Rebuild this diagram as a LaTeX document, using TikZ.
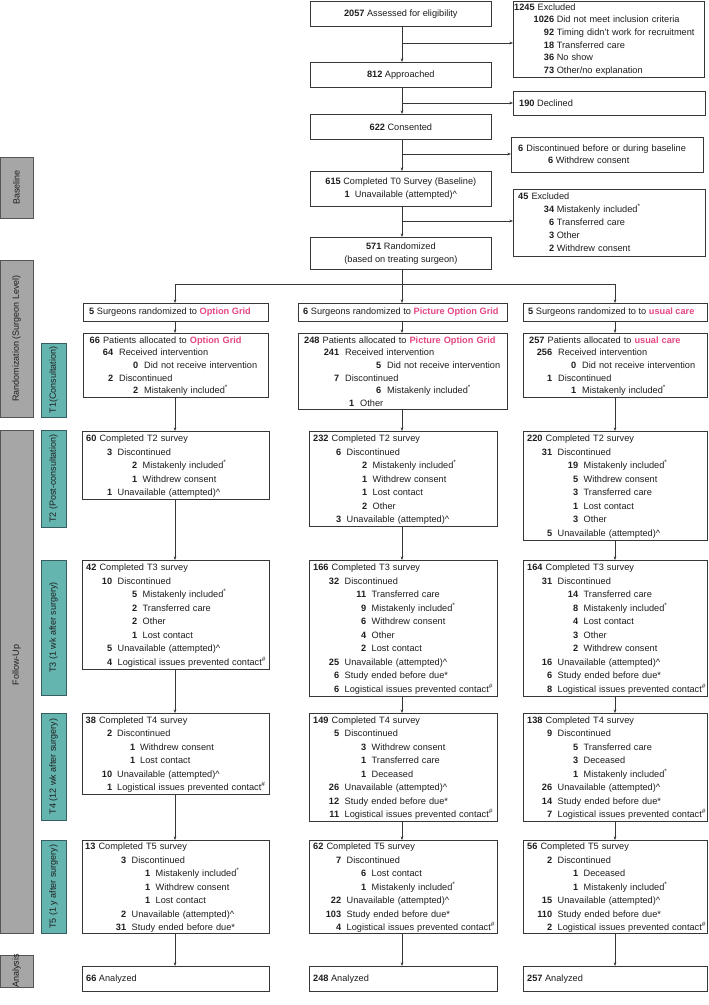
\documentclass[tikz,border=0pt]{standalone}
\usepackage{fontspec}
\setmainfont{Liberation Sans}
\usetikzlibrary{arrows.meta}
\definecolor{pk}{RGB}{228,70,132}
\definecolor{txt}{RGB}{30,30,30}
\definecolor{bd}{RGB}{55,55,55}
\definecolor{grayf}{RGB}{166,166,166}
\definecolor{grayd}{RGB}{85,85,85}
\definecolor{tealf}{RGB}{100,181,176}
\definecolor{teald}{RGB}{55,95,95}
\newlength\rA \newlength\rB \newlength\gp \newlength\hx
\setlength\gp{6pt}\setlength\hx{5.5pt}
\newcommand\pkb[1]{\textcolor{pk}{\textbf{#1}}}
\newcommand\Lh[2]{\rule{0pt}{7pt}\hspace*{\hx}\textbf{#1} #2}
\newcommand\Lo[2]{\makebox[\rA][r]{\textbf{#1}}\hspace*{\gp}#2}
\newcommand\Lt[2]{\makebox[\rB][r]{\textbf{#1}}\hspace*{\gp}#2}
\newcommand\mincl{\textsuperscript{*}}
\newcommand\hsh{\textsuperscript{\#}}
\newcommand\crt{\textasciicircum}
\tikzset{
  box/.style={draw=bd, line width=0.7pt, fill=white, inner sep=0pt, anchor=north west},
  cb/.style={font=\fontsize{9.2}{12.6}\selectfont, text=txt},
  body/.style={anchor=north west, inner sep=0pt, text width=300pt, align=left, text=txt},
  lvl/.style n args={4}{execute at begin node={\parindent=0pt\parskip=0pt\setlength\rA{#1pt}\setlength\rB{#2pt}\setlength\hx{#3pt}\setlength\gp{#4pt}}},
  fs/.style={font=\fontsize{9.2}{#1}\selectfont},
  arr/.style={draw=bd, line width=0.6pt, -{Stealth[length=3.6pt,width=2.8pt]}},
  ln/.style={draw=bd, line width=0.6pt},
  gbar/.style={fill=grayf, draw=grayd, line width=0.8pt},
  tbar/.style={fill=tealf, draw=teald, line width=0.8pt},
  bartxt/.style={rotate=90, font=\fontsize{9}{10}\selectfont, text=txt, inner sep=0pt},
  one/.style={anchor=west, inner sep=0pt, font=\fontsize{9.2}{11}\selectfont, text=txt},
}
\begin{document}
\begin{tikzpicture}[x=1pt,y=-1pt]
\useasboundingbox (0,0) rectangle (709,1005);
% side bars
\draw[gbar] (0.5,157) rectangle (33,218);
\node[bartxt] (lb1) at (16.5,187.5) {Baseline};
\draw[gbar] (0.5,260) rectangle (33,417);
\node[bartxt] (lb2) at (16.5,338.5) {Randomization (Surgeon Level)};
\draw[gbar] (0.5,430) rectangle (33,933);
\node[bartxt] (lb3) at (16.5,665) {Follow-Up};
\draw[gbar] (0.5,955) rectangle (33,987);
\node[bartxt] (lb4) at (16.5,971) {Analysis};
\draw[tbar] (41,343) rectangle (66,417);
\node[bartxt] (lt1) at (53.5,380) {T1(Consultation)};
\draw[tbar] (41,430) rectangle (66,527);
\node[bartxt] (lt2) at (53.5,478.5) {T2 (Post-consultation)};
\draw[tbar] (41,560) rectangle (66,695);
\node[bartxt] (lt3) at (53.5,627.5) {T3 (1 wk after surgery)};
\draw[tbar] (41,713) rectangle (66,820);
\node[bartxt] (lt4) at (53.5,766.5) {T4 (12 wk after surgery)};
\draw[tbar] (41,840) rectangle (66,933);
\node[bartxt] (lt5) at (53.5,886.5) {T5 (1 y after surgery)};

\coordinate (cl) at (175,0);
\coordinate (cm) at (402,0);
\coordinate (cr) at (615,0);

% top flow
\node[box, cb, minimum width=181pt, minimum height=25pt] (as) at (310,1) {\textbf{2057} Assessed for eligibility};
\node[box, minimum width=191pt, minimum height=76pt] (ex1) at (513,1) {};
\node[body, fs=12.6, lvl={41}{41}{1}{2.6}] (ex1t) at ([shift={(0,2)}]ex1.north west)
 {\Lh{1245}{Excluded}\\
  \Lo{1026}{Did not meet inclusion criteria}\\
  \Lo{92}{Timing didn't work for recruitment}\\
  \Lo{18}{Transferred care}\\
  \Lo{36}{No show}\\
  \Lo{73}{Other/no explanation}};
\node[box, cb, minimum width=181pt, minimum height=25pt] (ap) at (310,62) {\textbf{812} Approached};
\node[box, minimum width=192pt, minimum height=24pt] (dc) at (513,91) {};
\node[one] (dct) at ([shift={(6,0)}]dc.west) {\textbf{190} Declined};
\node[box, cb, minimum width=181pt, minimum height=25pt] (cs) at (310,114) {\textbf{622} Consented};
\node[box, minimum width=192pt, minimum height=35pt] (ds) at (511,137) {};
\node[body, fs=12.6, lvl={42}{42}{7}{2.6}] (dst) at ([shift={(0,7)}]ds.north west)
 {\Lh{6}{Discontinued before or during baseline}\\
  \Lo{6}{Withdrew consent}};
\node[box, cb, align=center, minimum width=181pt, minimum height=35pt] (t0) at (310,171)
 {\textbf{615} Completed T0 Survey (Baseline)\\\textbf{1}\ \ Unavailable (attempted)\crt};
\node[box, minimum width=192pt, minimum height=67pt] (ex2) at (513,189) {};
\node[body, fs=13, lvl={41}{41}{5}{2.6}] (ex2t) at ([shift={(0,3)}]ex2.north west)
 {\Lh{45}{Excluded}\\
  \Lo{34}{Mistakenly included\mincl}\\
  \Lo{6}{Transferred care}\\
  \Lo{3}{Other}\\
  \Lo{2}{Withdrew consent}};
\node[box, cb, align=center, minimum width=181pt, minimum height=32pt] (rd) at (310,237)
 {\textbf{571} Randomized\\(based on treating surgeon)};

\coordinate (j1) at (402,43);
\coordinate (j2) at (402,103);
\coordinate (j3) at (402,154);
\coordinate (j4) at (402,221);
\coordinate (hz) at (402,284);
\draw[arr] (as.south -| cm) -- (ap.north -| cm);
\draw[arr] (ap.south -| cm) -- (cs.north -| cm);
\draw[arr] (cs.south -| cm) -- (t0.north -| cm);
\draw[arr] (t0.south -| cm) -- (rd.north -| cm);
\draw[arr] (j1) -- (j1 -| ex1.west);
\draw[arr] (j2) -- (j2 -| dc.west);
\draw[arr] (j3) -- (j3 -| ds.west);
\draw[arr] (j4) -- (j4 -| ex2.west);
\draw[ln] (rd.south -| cm) -- (hz);
\draw[ln] (hz -| cl) -- (hz -| cr);

% surgeons
\node[box, minimum width=185pt, minimum height=18pt] (sl) at (83,303) {};
\node[one] (slt) at ([shift={(6,0)}]sl.west) {\textbf{5} Surgeons randomized to \pkb{Option Grid}};
\node[box, minimum width=209pt, minimum height=18pt] (sm) at (298,303) {};
\node[one] (smt) at ([shift={(5,0)}]sm.west) {\textbf{6} Surgeons randomized to \pkb{Picture Option Grid}};
\node[box, minimum width=184pt, minimum height=18pt] (sr) at (523,303) {};
\node[one] (srt) at ([shift={(5,0)}]sr.west) {\textbf{5} Surgeons randomized to to \pkb{usual care}};
\draw[arr] (hz -| cl) -- (sl.north -| cl);
\draw[arr] (hz) -- (sm.north -| cm);
\draw[arr] (hz -| cr) -- (sr.north -| cr);

% T1
\node[box, minimum width=185pt, minimum height=64pt] (t1l) at (83,333) {};
\node[body, fs=12.6, lvl={30}{55}{6.5}{6}] (t1lt) at ([shift={(0,3)}]t1l.north west)
 {\Lh{66}{Patients allocated to \pkb{Option Grid}}\\
  \Lo{64}{Received intervention}\\
  \Lt{0}{Did not receive intervention}\\
  \Lo{2}{Discontinued}\\
  \Lt{2}{Mistakenly included\mincl}};
\node[box, minimum width=209pt, minimum height=76pt] (t1m) at (298,333) {};
\node[body, fs=12.6, lvl={41}{83}{6}{6}] (t1mt) at ([shift={(0,3)}]t1m.north west)
 {\Lh{248}{Patients allocated to \pkb{Picture Option Grid}}\\
  \Lo{241}{Received intervention}\\
  \Lt{5}{Did not receive intervention}\\
  \Lo{7}{Discontinued}\\
  \Lt{6}{Mistakenly included\mincl}\\
  \makebox[56pt][r]{\textbf{1}}\hspace*{6pt}Other};
\node[box, minimum width=184pt, minimum height=64pt] (t1r) at (523,333) {};
\node[body, fs=12.6, lvl={29}{53}{6}{6}] (t1rt) at ([shift={(0,3)}]t1r.north west)
 {\Lh{257}{Patients allocated to \pkb{usual care}}\\
  \Lo{256}{Received intervention}\\
  \Lt{0}{Did not receive intervention}\\
  \Lo{1}{Discontinued}\\
  \Lt{1}{Mistakenly included\mincl}};
\draw[arr] (sl.south -| cl) -- (t1l.north -| cl);
\draw[arr] (sm.south -| cm) -- (t1m.north -| cm);
\draw[arr] (sr.south -| cr) -- (t1r.north -| cr);

% T2
\node[box, minimum width=187pt, minimum height=68pt] (t2l) at (82,431) {};
\node[body, fs=13.5, lvl={30}{55}{4}{5.5}] (t2lt) at ([shift={(0,3.5)}]t2l.north west)
 {\Lh{60}{Completed T2 survey}\\
  \Lo{3}{Discontinued}\\
  \Lt{2}{Mistakenly included\mincl}\\
  \Lt{1}{Withdrew consent}\\
  \Lo{1}{Unavailable (attempted)\crt}};
\node[box, minimum width=188pt, minimum height=95pt] (t2m) at (309,431) {};
\node[body, fs=13.5, lvl={32}{58}{4}{5.5}] (t2mt) at ([shift={(0,3.5)}]t2m.north west)
 {\Lh{232}{Completed T2 survey}\\
  \Lo{6}{Discontinued}\\
  \Lt{2}{Mistakenly included\mincl}\\
  \Lt{1}{Withdrew consent}\\
  \Lt{1}{Lost contact}\\
  \Lt{2}{Other}\\
  \Lo{3}{Unavailable (attempted)\crt}};
\node[box, minimum width=184pt, minimum height=108.5pt] (t2r) at (523,431) {};
\node[body, fs=13.5, lvl={29}{55}{4}{5.5}] (t2rt) at ([shift={(0,3.5)}]t2r.north west)
 {\Lh{220}{Completed T2 survey}\\
  \Lo{31}{Discontinued}\\
  \Lt{19}{Mistakenly included\mincl}\\
  \Lt{5}{Withdrew consent}\\
  \Lt{3}{Transferred care}\\
  \Lt{1}{Lost contact}\\
  \Lt{3}{Other}\\
  \Lo{5}{Unavailable (attempted)\crt}};
\draw[arr] (t1l.south -| cl) -- (t2l.north -| cl);
\draw[arr] (t1m.south -| cm) -- (t2m.north -| cm);
\draw[arr] (t1r.south -| cr) -- (t2r.north -| cr);

% T3
\node[box, minimum width=187pt, minimum height=108.5pt] (t3l) at (82,560) {};
\node[body, fs=13.5, lvl={30}{55}{4}{5.5}] (t3lt) at ([shift={(0,3.5)}]t3l.north west)
 {\Lh{42}{Completed T3 survey}\\
  \Lo{10}{Discontinued}\\
  \Lt{5}{Mistakenly included\mincl}\\
  \Lt{2}{Transferred care}\\
  \Lt{2}{Other}\\
  \Lt{1}{Lost contact}\\
  \Lo{5}{Unavailable (attempted)\crt}\\
  \Lo{4}{Logistical issues prevented contact\hsh}};
\node[box, minimum width=188pt, minimum height=135.5pt] (t3m) at (309,560) {};
\node[body, fs=13.5, lvl={30}{57}{4}{5.5}] (t3mt) at ([shift={(0,3.5)}]t3m.north west)
 {\Lh{166}{Completed T3 survey}\\
  \Lo{32}{Discontinued}\\
  \Lt{11}{Transferred care}\\
  \Lt{9}{Mistakenly included\mincl}\\
  \Lt{6}{Withdrew consent}\\
  \Lt{4}{Other}\\
  \Lt{2}{Lost contact}\\
  \Lo{25}{Unavailable (attempted)\crt}\\
  \Lo{6}{Study ended before due*}\\
  \Lo{6}{Logistical issues prevented contact\hsh}};
\node[box, minimum width=184pt, minimum height=135.5pt] (t3r) at (523,560) {};
\node[body, fs=13.5, lvl={29}{55}{4}{5.5}] (t3rt) at ([shift={(0,3.5)}]t3r.north west)
 {\Lh{164}{Completed T3 survey}\\
  \Lo{31}{Discontinued}\\
  \Lt{14}{Transferred care}\\
  \Lt{8}{Mistakenly included\mincl}\\
  \Lt{4}{Lost contact}\\
  \Lt{3}{Other}\\
  \Lt{2}{Withdrew consent}\\
  \Lo{16}{Unavailable (attempted)\crt}\\
  \Lo{6}{Study ended before due*}\\
  \Lo{8}{Logistical issues prevented contact\hsh}};
\draw[arr] (t2l.south -| cl) -- (t3l.north -| cl);
\draw[arr] (t2m.south -| cm) -- (t3m.north -| cm);
\draw[arr] (t2r.south -| cr) -- (t3r.north -| cr);

% T4
\node[box, minimum width=187pt, minimum height=81pt] (t4l) at (82,713) {};
\node[body, fs=13.5, lvl={30}{53}{3.5}{5}] (t4lt) at ([shift={(0,3)}]t4l.north west)
 {\Lh{38}{Completed T4 survey}\\
  \Lo{2}{Discontinued}\\
  \Lt{1}{Withdrew consent}\\
  \Lt{1}{Lost contact}\\
  \Lo{10}{Unavailable (attempted)\crt}\\
  \Lo{1}{Logistical issues prevented contact\hsh}};
\node[box, minimum width=188pt, minimum height=107.5pt] (t4m) at (309,713) {};
\node[body, fs=13.5, lvl={30}{57}{4}{5.5}] (t4mt) at ([shift={(0,3)}]t4m.north west)
 {\Lh{149}{Completed T4 survey}\\
  \Lo{5}{Discontinued}\\
  \Lt{3}{Withdrew consent}\\
  \Lt{1}{Transferred care}\\
  \Lt{1}{Deceased}\\
  \Lo{26}{Unavailable (attempted)\crt}\\
  \Lo{12}{Study ended before due*}\\
  \Lo{11}{Logistical issues prevented contact\hsh}};
\node[box, minimum width=184pt, minimum height=107.5pt] (t4r) at (523,713) {};
\node[body, fs=13.5, lvl={29}{55}{4}{5.5}] (t4rt) at ([shift={(0,3)}]t4r.north west)
 {\Lh{138}{Completed T4 survey}\\
  \Lo{9}{Discontinued}\\
  \Lt{5}{Transferred care}\\
  \Lt{3}{Deceased}\\
  \Lt{1}{Mistakenly included\mincl}\\
  \Lo{26}{Unavailable (attempted)\crt}\\
  \Lo{14}{Study ended before due*}\\
  \Lo{7}{Logistical issues prevented contact\hsh}};
\draw[arr] (t3l.south -| cl) -- (t4l.north -| cl);
\draw[arr] (t3m.south -| cm) -- (t4m.north -| cm);
\draw[arr] (t3r.south -| cr) -- (t4r.north -| cr);

% T5
\node[box, minimum width=187pt, minimum height=93pt] (t5l) at (82,840) {};
\node[body, fs=13.5, lvl={44}{68}{3}{5.5}] (t5lt) at ([shift={(0,2.5)}]t5l.north west)
 {\Lh{13}{Completed T5 survey}\\
  \Lo{3}{Discontinued}\\
  \Lt{1}{Mistakenly included\mincl}\\
  \Lt{1}{Withdrew consent}\\
  \Lt{1}{Lost contact}\\
  \Lo{2}{Unavailable (attempted)\crt}\\
  \Lo{31}{Study ended before due*}};
\node[box, minimum width=188pt, minimum height=93pt] (t5m) at (309,840) {};
\node[body, fs=13.5, lvl={32}{57}{4}{5.5}] (t5mt) at ([shift={(0,2.5)}]t5m.north west)
 {\Lh{62}{Completed T5 survey}\\
  \Lo{7}{Discontinued}\\
  \Lt{6}{Lost contact}\\
  \Lt{1}{Mistakenly included\mincl}\\
  \Lo{22}{Unavailable (attempted)\crt}\\
  \Lo{103}{Study ended before due*}\\
  \Lo{4}{Logistical issues prevented contact\hsh}};
\node[box, minimum width=184pt, minimum height=93pt] (t5r) at (523,840) {};
\node[body, fs=13.5, lvl={29}{55}{4}{5.5}] (t5rt) at ([shift={(0,2.5)}]t5r.north west)
 {\Lh{56}{Completed T5 survey}\\
  \Lo{2}{Discontinued}\\
  \Lt{1}{Deceased}\\
  \Lt{1}{Mistakenly included\mincl}\\
  \Lo{15}{Unavailable (attempted)\crt}\\
  \Lo{110}{Study ended before due*}\\
  \Lo{2}{Logistical issues prevented contact\hsh}};
\draw[arr] (t4l.south -| cl) -- (t5l.north -| cl);
\draw[arr] (t4m.south -| cm) -- (t5m.north -| cm);
\draw[arr] (t4r.south -| cr) -- (t5r.north -| cr);

% Analyzed
\node[box, minimum width=187pt, minimum height=25pt] (anl) at (82,966) {};
\node[one] (anlt) at ([shift={(4,0)}]anl.west) {\textbf{66} Analyzed};
\node[box, minimum width=188pt, minimum height=25pt] (anm) at (309,966) {};
\node[one] (anmt) at ([shift={(4,0)}]anm.west) {\textbf{248} Analyzed};
\node[box, minimum width=184pt, minimum height=25pt] (anr) at (523,966) {};
\node[one] (anrt) at ([shift={(4,0)}]anr.west) {\textbf{257} Analyzed};
\draw[arr] (t5l.south -| cl) -- (anl.north -| cl);
\draw[arr] (t5m.south -| cm) -- (anm.north -| cm);
\draw[arr] (t5r.south -| cr) -- (anr.north -| cr);
\end{tikzpicture}
\end{document}
